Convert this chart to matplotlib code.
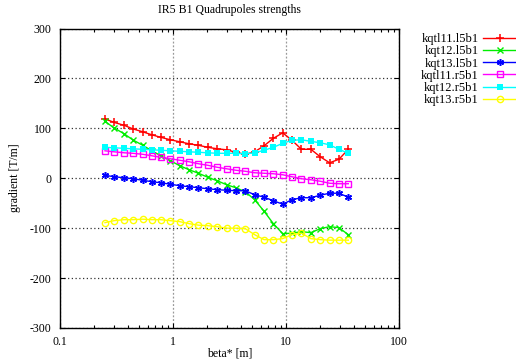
import matplotlib
matplotlib.use('Agg')
import matplotlib.pyplot as plt
from matplotlib.ticker import FixedLocator, LogLocator, NullFormatter, FuncFormatter

plt.rcParams['font.family'] = ['Liberation Serif', 'DejaVu Serif']
plt.rcParams['axes.unicode_minus'] = False

# beta* values [m]
beta = [0.25, 0.30, 0.37, 0.44, 0.54, 0.65, 0.78, 0.95, 1.15, 1.39, 1.68, 2.03, 2.46,
        2.98, 3.60, 4.36, 5.28, 6.39, 7.73, 9.35, 11.3, 13.7, 16.6, 20.1, 24.3, 29.4, 35.6]

kqtl11_l5b1 = [119, 112, 106, 99, 93, 87, 82, 77, 73, 69, 66, 62, 59,
               57, 52, 48, 53, 65, 80, 91, 76, 58, 58, 43, 31, 38, 58]
kqt12_l5b1 = [114, 101, 89, 77, 66, 55, 45, 35, 25, 17, 10, 2, -5,
              -13, -19, -27, -43, -66, -91, -111, -110, -107, -109, -101, -97, -99, -113]
kqt13_l5b1 = [6, 3, 1, -1, -4, -7, -9, -12, -15, -17, -19, -21, -23,
              -24, -25, -25, -33, -38, -45, -52, -43, -39, -39, -34, -30, -30, -38]
kqtl11_r5b1 = [55, 53, 51, 50, 48, 45, 42, 39, 36, 33, 29, 26, 22,
               19, 16, 14, 11, 10, 9, 7, 3, -1, -3, -6, -10, -11, -11]
kqt12_r5b1 = [62, 61, 60, 59, 58, 57, 56, 55, 54, 53, 52, 51, 50,
              50, 50, 49, 51, 56, 62, 70, 76, 77, 74, 71, 67, 58, 50]
kqt13_r5b1 = [-89, -85, -83, -83, -82, -83, -83, -85, -87, -91, -94, -95, -97,
              -100, -100, -101, -113, -123, -123, -121, -113, -110, -121, -123, -124, -124, -124]

series = [
    ('kqtl11.l5b1', kqtl11_l5b1, '#ff0000', dict(marker='+', ms=5.5, mew=1.1)),
    ('kqt12.l5b1', kqt12_l5b1, '#00ee00', dict(marker='x', ms=4, mew=1.0)),
    ('kqt13.l5b1', kqt13_l5b1, '#0000ff', dict(marker=(6, 2, 0), ms=5, mew=1.1)),
    ('kqtl11.r5b1', kqtl11_r5b1, '#ff00ff', dict(marker='s', ms=4.5, mfc='none', mew=1.0)),
    ('kqt12.r5b1', kqt12_r5b1, '#00ffff', dict(marker='s', ms=4.5, mew=0)),
    ('kqt13.r5b1', kqt13_r5b1, '#ffff00', dict(marker='o', ms=4.5, mfc='none', mew=1.0)),
]

fig = plt.figure(figsize=(5.16, 3.64), dpi=100)
ax = fig.add_axes([60 / 516, 1 - 328 / 364, 339 / 516, 299.5 / 364])

for name, vals, col, mk in series:
    ax.plot(beta, vals, color=col, lw=1.0, label=name, **mk)

ax.set_xscale('log')
ax.set_xlim(0.1, 100)
ax.set_ylim(-300, 300)
ax.xaxis.set_major_locator(FixedLocator([0.1, 1, 10, 100]))
ax.xaxis.set_major_formatter(FuncFormatter(lambda v, p: '%g' % v))
ax.xaxis.set_minor_locator(LogLocator(base=10, subs=range(2, 10)))
ax.xaxis.set_minor_formatter(NullFormatter())
ax.set_yticks([-300, -200, -100, 0, 100, 200, 300])

ax.tick_params(which='both', direction='in', top=True, right=True, labelsize=8.5, pad=6)
ax.tick_params(which='major', length=3.5, width=0.8)
ax.tick_params(which='minor', length=2, width=0.8)
for s in ax.spines.values():
    s.set_linewidth(1.0)

ax.xaxis.grid(True, which='major', color='0.6', linestyle=(0, (1.5, 1.5)), lw=0.9)
ax.yaxis.grid(True, which='major', color='0.2', linestyle=(0, (1, 2)), lw=0.9)

fig.text(229.5 / 516, 1 - 10 / 364, 'IR5 B1 Quadrupoles strengths', ha='center', va='center', fontsize=8.5)
fig.text(229.5 / 516, 1 - 354 / 364, 'beta* [m]', ha='center', va='center', fontsize=8.5)
fig.text(15 / 516, 1 - 178 / 364, 'gradient [T/m]', ha='center', va='center', rotation=90, fontsize=8.5)

ax.legend(loc='upper right', bbox_to_anchor=(517 / 516, 1 - 33 / 364), bbox_transform=fig.transFigure,
          markerfirst=False, frameon=False, fontsize=9, handlelength=2.7, handletextpad=0.35,
          labelspacing=0.02, borderpad=0, borderaxespad=0)

fig.savefig('out.png', dpi=100)
